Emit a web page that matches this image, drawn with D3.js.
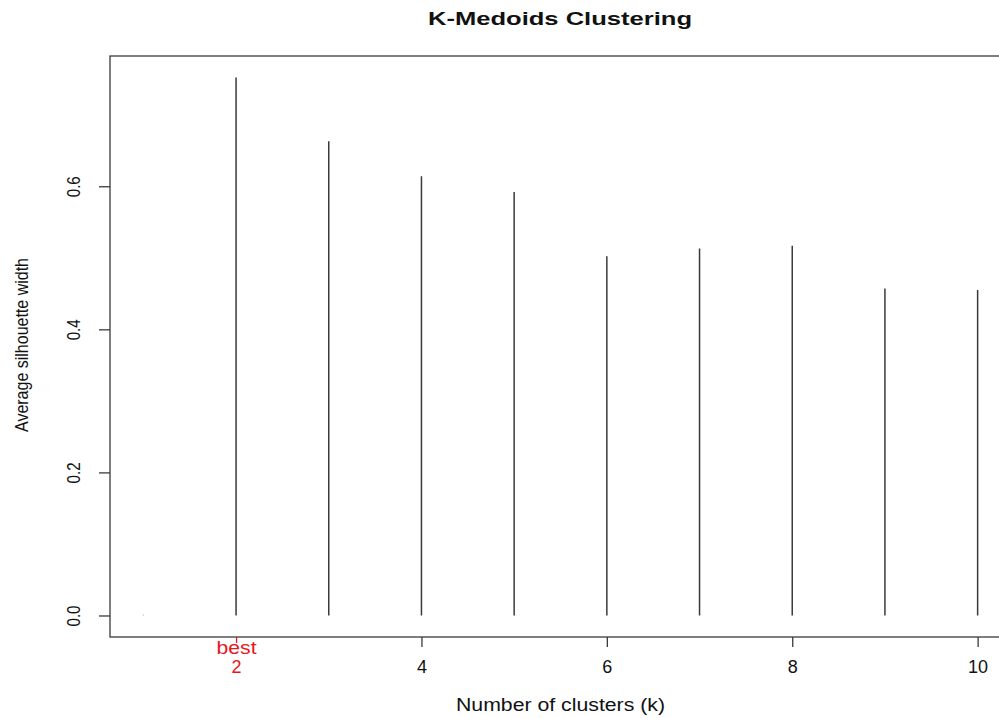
<!DOCTYPE html>
<html>
<head>
<meta charset="utf-8">
<script src="https://cdn.jsdelivr.net/npm/d3@7"></script>
<style>
  html, body { margin: 0; padding: 0; background: #fff; }
  svg { display: block; }
  svg text { font-family: "Liberation Sans", Arial, Helvetica, sans-serif; }
</style>
</head>
<body>
<svg id="chart" width="999" height="718"></svg>
<script>
// Average silhouette width for k = 1..10 (k = 1 has no silhouette, so 0)
const clusterCounts = [1, 2, 3, 4, 5, 6, 7, 8, 9, 10];
const silhouetteWidths = [0, 0.752, 0.663, 0.614, 0.592, 0.502, 0.513, 0.517, 0.457, 0.455];
const xTickValues = [4, 6, 8, 10];
const yTickValues = [0.0, 0.2, 0.4, 0.6];
const bestK = 2;
const bestLabel = "best";

const titleText = "K-Medoids Clustering";
const xTitleText = "Number of clusters (k)";
const yTitleText = "Average silhouette width";

const svg = d3.select("#chart");
const ink = "#3a3a3a";
const red = "#e8151b";

// Plot region (base-graphics style: 4% padding on both axes)
const plot = { left: 110, right: 1011, top: 56, bottom: 637 };
const xMin = d3.min(clusterCounts), xMax = d3.max(clusterCounts);
const yMin = 0, yMax = d3.max(silhouetteWidths);
const xPad = (xMax - xMin) * 0.04, yPad = (yMax - yMin) * 0.04;

const x = d3.scaleLinear().domain([xMin - xPad, xMax + xPad]).range([plot.left, plot.right]);
const y = d3.scaleLinear().domain([yMin - yPad, yMax + yPad]).range([plot.bottom, plot.top]);

// Box around plot area
svg.append("rect")
  .attr("x", plot.left).attr("y", plot.top)
  .attr("width", plot.right - plot.left).attr("height", plot.bottom - plot.top)
  .attr("fill", "none").attr("stroke", ink).attr("stroke-width", 1.3);

// Vertical "h" style lines
svg.append("g").selectAll("line")
  .data(clusterCounts.map((k, i) => ({ k, v: silhouetteWidths[i] })))
  .join("line")
  .attr("x1", d => x(d.k)).attr("x2", d => x(d.k))
  .attr("y1", y(0)).attr("y2", d => d.v === 0 ? y(0) - 0.8 : y(d.v))
  .attr("stroke", d => d.v === 0 ? "#999" : ink)
  .attr("stroke-width", d => d.v === 0 ? 1 : 1.5);

// Bottom axis (regular ticks)
const xAxis = svg.append("g")
  .attr("transform", `translate(0,${plot.bottom})`)
  .call(d3.axisBottom(x).tickValues(xTickValues).tickSize(10).tickSizeOuter(0).tickFormat(d3.format("d")));
xAxis.select(".domain").remove();
xAxis.selectAll(".tick line").attr("stroke", ink).attr("stroke-width", 1.3);
xAxis.selectAll(".tick text")
  .attr("y", 36).attr("dy", null).attr("fill", "#111")
  .style("font-size", "18px");

// Bottom axis for the best k, in red, with a two-line label
const bestAxis = svg.append("g")
  .attr("transform", `translate(0,${plot.bottom})`)
  .call(d3.axisBottom(x).tickValues([bestK]).tickSize(6).tickSizeOuter(0).tickFormat(() => ""));
bestAxis.select(".domain").remove();
bestAxis.selectAll(".tick line").attr("stroke", red).attr("stroke-width", 1.3);
bestAxis.selectAll(".tick text").remove();
const bestTick = bestAxis.select(".tick");
bestTick.append("text")
  .attr("x", -20).attr("y", 17).attr("text-anchor", "start")
  .attr("textLength", 40).attr("lengthAdjust", "spacingAndGlyphs")
  .attr("fill", red).style("font-size", "18px")
  .text(bestLabel);
bestTick.append("text")
  .attr("x", 0).attr("y", 36).attr("text-anchor", "middle")
  .attr("fill", red).style("font-size", "18px")
  .text(bestK);

// Left axis, labels written parallel to the axis
const yAxis = svg.append("g")
  .attr("transform", `translate(${plot.left},0)`)
  .call(d3.axisLeft(y).tickValues(yTickValues).tickSize(11).tickSizeOuter(0).tickFormat(d3.format(".1f")));
yAxis.select(".domain").remove();
yAxis.selectAll(".tick line").attr("stroke", ink).attr("stroke-width", 1.3);
yAxis.selectAll(".tick text")
  .attr("x", -10.5).attr("dy", null)
  .attr("text-anchor", "start")
  .attr("textLength", 21).attr("lengthAdjust", "spacingAndGlyphs")
  .attr("transform", "translate(-30,0) rotate(-90)")
  .attr("fill", "#111")
  .style("font-size", "18px");

// Titles
svg.append("text")
  .attr("x", 428).attr("y", 25)
  .attr("textLength", 264).attr("lengthAdjust", "spacingAndGlyphs")
  .style("font-size", "18.5px").style("font-weight", "bold")
  .attr("fill", "#111")
  .text(titleText);

svg.append("text")
  .attr("x", 456).attr("y", 711)
  .attr("textLength", 209).attr("lengthAdjust", "spacingAndGlyphs")
  .style("font-size", "17.5px")
  .attr("fill", "#111")
  .text(xTitleText);

svg.append("text")
  .attr("transform", "translate(28,432) rotate(-90)")
  .attr("textLength", 174).attr("lengthAdjust", "spacingAndGlyphs")
  .style("font-size", "17.5px")
  .attr("fill", "#111")
  .text(yTitleText);
</script>
</body>
</html>
